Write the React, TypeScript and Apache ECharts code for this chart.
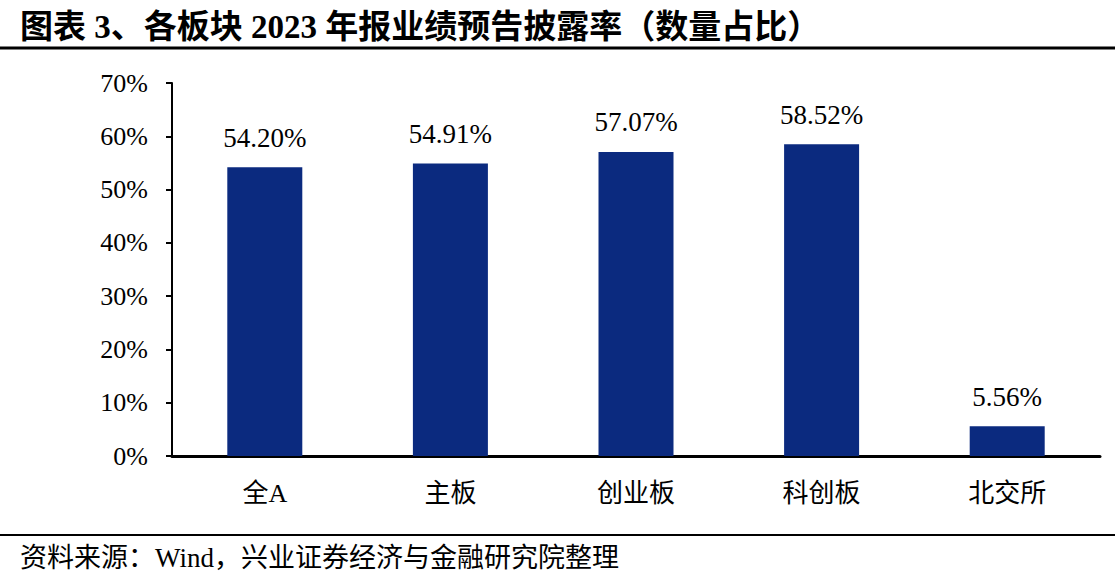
import React, { useEffect, useRef } from "react";
import * as echarts from "echarts";

const categories = ["全A", "主板", "创业板", "科创板", "北交所"];
const values = [54.2, 54.91, 57.07, 58.52, 5.56];
const yTicks = [0, 10, 20, 30, 40, 50, 60, 70];
const titleText = "图表 3、各板块 2023 年报业绩预告披露率（数量占比）";
const sourceText = "资料来源：Wind，兴业证券经济与金融研究院整理";

const SERIF = '"Liberation Serif", "Times New Roman", "Noto Sans CJK SC", serif';

export default function App() {
  const ref = useRef<HTMLDivElement>(null);
  useEffect(() => {
    if (!ref.current) return;
    const chart = echarts.init(ref.current, null, { renderer: "svg" });
    chart.setOption({
      animation: false,
      backgroundColor: "#ffffff",
      grid: { left: 172, right: 15, top: 83, bottom: 127, containLabel: false },
      xAxis: {
        type: "category",
        data: categories,
        axisLine: { show: true, lineStyle: { color: "#000", width: 3 } },
        axisTick: { show: false },
        axisLabel: {
          color: "#000",
          fontSize: 26,
          fontFamily: SERIF,
          margin: 24,
        },
      },
      yAxis: {
        type: "value",
        min: yTicks[0],
        max: yTicks[yTicks.length - 1],
        interval: 10,
        splitLine: { show: false },
        axisLine: { show: true, lineStyle: { color: "#000", width: 2 } },
        axisTick: { show: true, inside: false, length: 6, lineStyle: { color: "#000", width: 2 } },
        axisLabel: {
          color: "#000",
          fontSize: 26,
          fontFamily: SERIF,
          margin: 24,
          formatter: (v: number) => `${v}%`,
        },
      },
      series: [
        {
          type: "bar",
          data: values,
          barWidth: 75,
          itemStyle: { color: "#0B2A7F" },
          label: {
            show: true,
            position: "top",
            distance: 16,
            color: "#000",
            fontSize: 27,
            fontFamily: SERIF,
            formatter: (p: any) => `${p.value.toFixed(2)}%`,
          },
        },
      ],
      graphic: [
        {
          type: "text",
          left: 20,
          top: 10,
          style: {
            text: titleText,
            fontSize: 33,
            fontWeight: "bold",
            fontFamily: SERIF,
            fill: "#000",
          },
        },
        {
          type: "line",
          shape: { x1: 0, y1: 48, x2: 1115, y2: 48 },
          style: { stroke: "#000", lineWidth: 3 },
        },
        {
          type: "line",
          shape: { x1: 0, y1: 535, x2: 1115, y2: 535 },
          style: { stroke: "#000", lineWidth: 2 },
        },
        {
          type: "text",
          left: 20,
          top: 544,
          style: {
            text: sourceText,
            fontSize: 27,
            fontFamily: SERIF,
            fill: "#000",
          },
        },
      ],
    });
    return () => chart.dispose();
  }, []);
  return <div ref={ref} style={{ width: 1115, height: 583, position: "absolute", left: 0, top: 0 }} />;
}
